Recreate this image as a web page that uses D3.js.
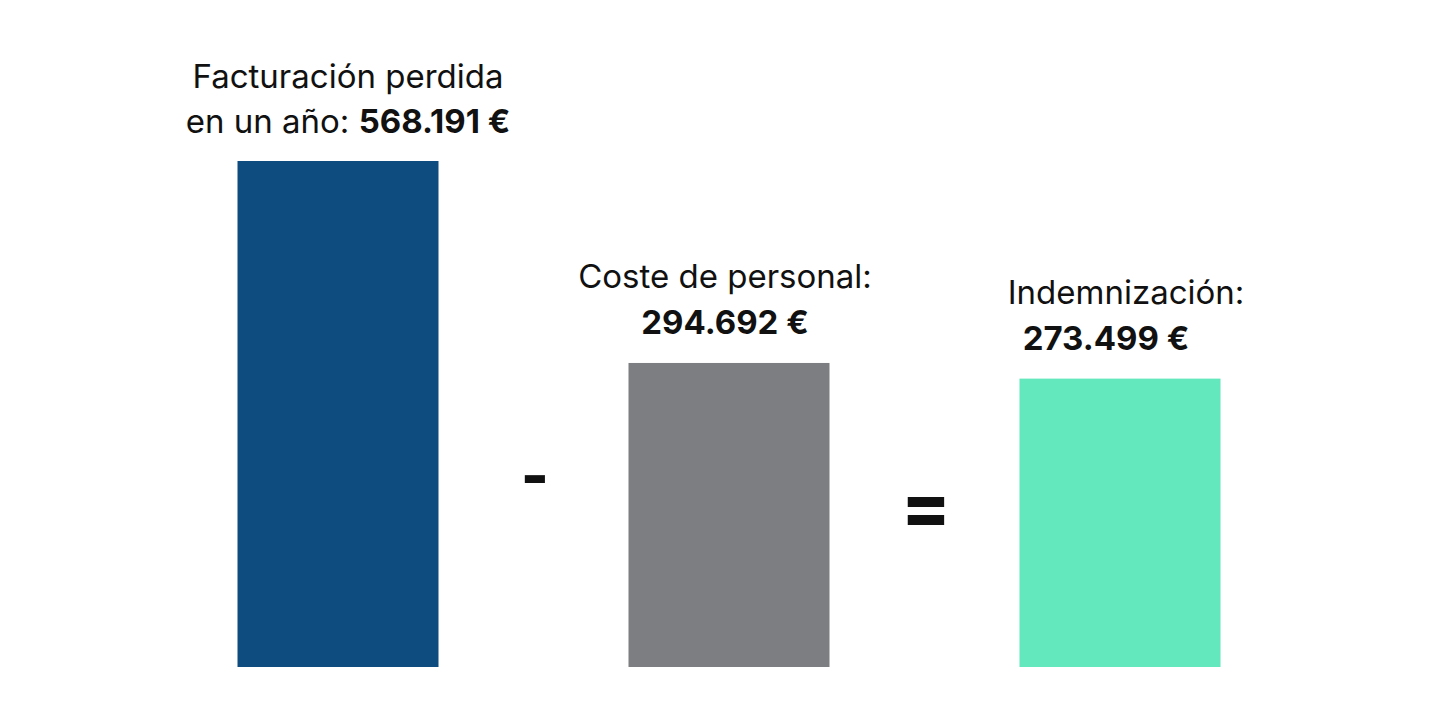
<!DOCTYPE html>
<html><head><meta charset="utf-8">
<script src="https://cdn.jsdelivr.net/npm/d3@7"></script>
<style>body{margin:0;background:#fff}text{font-family:Inter,"Noto Sans",sans-serif;fill:#111}</style>
</head><body><svg id="c" width="1456" height="720"></svg>
<script>
const categories = ["Facturación perdida", "Coste de personal", "Indemnización"];
const values = [568191, 294692, 273499];
const valueLabels = ["568.191 €", "294.692 €", "273.499 €"];
const operators = ["-", "="];
const colors = ["#0e4c80", "#7d7e82", "#62e8bc"];

const svg = d3.select("#c");
const x = d3.scalePoint().domain(categories).range([338, 1120]);
const y = d3.scaleLinear().domain([-117000, 568191]).range([667, 161]);
const bw = 201;

svg.selectAll("rect").data(values).join("rect")
  .attr("x", (d, i) => x(categories[i]) - bw / 2)
  .attr("y", d => y(d))
  .attr("width", bw)
  .attr("height", d => y(-117000) - y(d))
  .attr("fill", (d, i) => colors[i]);

values.forEach((v, i) => {
  const cx = x(categories[i]);
  const top = y(v);
  if (i === 0) {
    svg.append("text").attr("x", cx + 10).attr("y", top - 73).attr("text-anchor", "middle")
      .attr("font-size", 33).text(categories[0]);
    const t = svg.append("text").attr("x", cx + 10).attr("y", top - 28).attr("text-anchor", "middle").attr("font-size", 33);
    t.append("tspan").text("en un año: ");
    t.append("tspan").attr("font-weight", 700).text(valueLabels[0]);
  } else {
    svg.append("text").attr("x", cx - 4 + (i === 2 ? 10 : 0)).attr("y", top - 75).attr("text-anchor", "middle")
      .attr("font-size", 33).text(categories[i] + ":");
    svg.append("text").attr("x", cx - 4 + (i === 2 ? -10 : 0)).attr("y", top - 29).attr("text-anchor", "middle")
      .attr("font-size", 33).attr("font-weight", 700).text(valueLabels[i]);
  }
});

svg.append("text").attr("x", 535).attr("y", 497).attr("text-anchor", "middle")
  .attr("font-size", 60).attr("font-weight", 800).text(operators[0]);
svg.append("text").attr("x", 926).attr("y", 532).attr("text-anchor", "middle")
  .attr("font-size", 72).attr("font-weight", 800).text(operators[1]);
</script></body></html>
